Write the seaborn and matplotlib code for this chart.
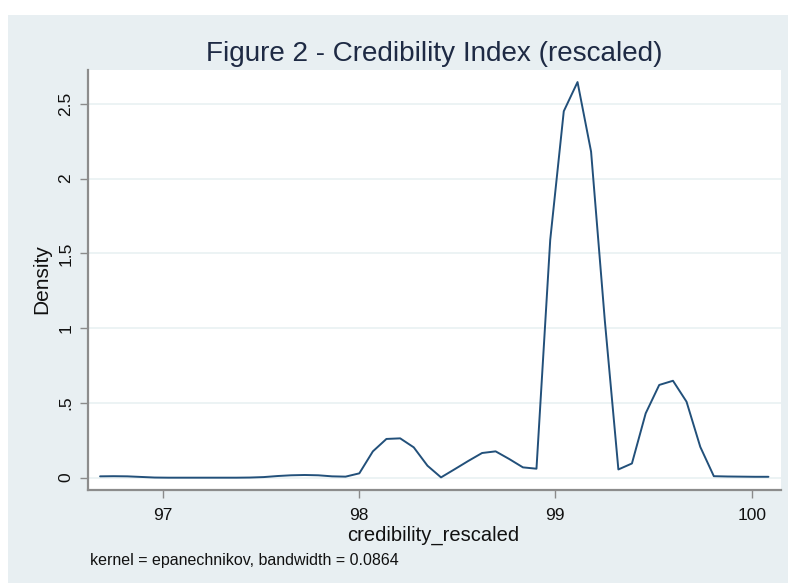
import numpy as np
import pandas as pd
import matplotlib
matplotlib.use("Agg")
import matplotlib.pyplot as plt
from matplotlib.patches import Rectangle
import seaborn as sns

# Evaluation points (credibility_rescaled) and estimated kernel density
credibility_rescaled = [
    96.682, 96.751, 96.821, 96.890, 96.960, 97.029, 97.099, 97.168, 97.238, 97.307,
    97.377, 97.446, 97.515, 97.585, 97.654, 97.724, 97.793, 97.863, 97.932, 98.002,
    98.071, 98.140, 98.210, 98.279, 98.349, 98.418, 98.488, 98.557, 98.627, 98.696,
    98.765, 98.835, 98.904, 98.974, 99.043, 99.113, 99.182, 99.252, 99.321, 99.390,
    99.460, 99.529, 99.599, 99.668, 99.738, 99.807, 99.877, 99.946, 100.016, 100.085,
]
density = [
    0.009, 0.010, 0.009, 0.005, 0.001, 0.000, 0.000, 0.000, 0.000, 0.000,
    0.000, 0.001, 0.004, 0.011, 0.016, 0.018, 0.016, 0.009, 0.007, 0.029,
    0.176, 0.259, 0.263, 0.203, 0.080, 0.002, 0.057, 0.112, 0.165, 0.176,
    0.125, 0.069, 0.060, 1.590, 2.450, 2.645, 2.180, 1.050, 0.055, 0.095,
    0.430, 0.620, 0.648, 0.508, 0.206, 0.010, 0.008, 0.007, 0.006, 0.006,
]
x_ticks = [97, 98, 99, 100]
x_ticklabels = ["97", "98", "99", "100"]
y_ticks = [0, 0.5, 1, 1.5, 2, 2.5]
y_ticklabels = ["0", ".5", "1", "1.5", "2", "2.5"]

title = "Figure 2 - Credibility Index (rescaled)"
xlabel = "credibility_rescaled"
ylabel = "Density"
note = "kernel = epanechnikov, bandwidth = 0.0864"

df = pd.DataFrame({"x": credibility_rescaled, "y": density})

sns.set_theme(style="white")
plt.rcParams["font.family"] = ["Liberation Sans", "DejaVu Sans"]

W, H = 788, 583
fig = plt.figure(figsize=(W / 100, H / 100), dpi=100, facecolor="white")
bg = "#e8eff2"
fig.patches.append(Rectangle((8 / W, 0), 1 - 8 / W, 1 - 15 / H,
                             transform=fig.transFigure, facecolor=bg,
                             edgecolor="none", zorder=-10))

L, R, T, B = 87.5, 781, 69.5, 489.5
ax = fig.add_axes([L / W, 1 - B / H, (R - L) / W, (B - T) / H])
ax.set_facecolor("white")

for yv in y_ticks:
    ax.axhline(yv, color="#e9f1f2", lw=1.2, zorder=0)

sns.lineplot(data=df, x="x", y="y", ax=ax, color="#22507a", lw=1.4,
             estimator=None, sort=False)

ax.set_xlim(96.618, 100.149)
ax.set_ylim(-0.079, 2.729)
ax.set_xticks(x_ticks)
ax.set_xticklabels(x_ticklabels)
ax.set_yticks(y_ticks)
ax.set_yticklabels(y_ticklabels, rotation=90, va="center")
ax.tick_params(axis="both", direction="out", length=6, width=1,
               color="#8a8a8a", labelsize=12.5, labelcolor="#111111", pad=4)
ax.tick_params(axis="x", bottom=True, pad=7.5)
ax.tick_params(axis="y", left=True)
ax.grid(False)

for s in ["top", "right"]:
    ax.spines[s].set_visible(False)
for s in ["left", "bottom"]:
    ax.spines[s].set_color("#8c8c8c")
    ax.spines[s].set_linewidth(1.6)

ax.set_xlabel("")
ax.set_ylabel("")
fig.text(433 / W, 1 - 540.7 / H, xlabel, ha="center", va="baseline",
         fontsize=14.5, color="#111111")
fig.text(42 / W, 1 - 279 / H, ylabel, ha="center", va="center",
         rotation=90, fontsize=15, color="#111111")
fig.text(434.5 / W, 1 - 61 / H, title, ha="center", va="baseline",
         fontsize=20.1, color="#1e2a44")
fig.text(90 / W, 1 - 565 / H, note, ha="left", va="baseline",
         fontsize=11.5, color="#111111")

fig.savefig("out.png", dpi=100, facecolor="white")
